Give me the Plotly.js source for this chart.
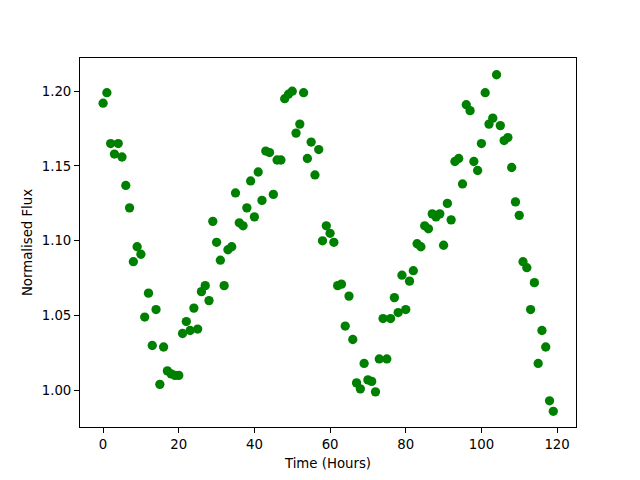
<!DOCTYPE html>
<html>
<head>
<meta charset="utf-8">
<script src="https://cdn.plot.ly/plotly-3.0.1.min.js"></script>
<style>html,body{margin:0;padding:0;background:#fff;}#chart{width:640px;height:480px;}</style>
</head>
<body>
<div id="chart"></div>
<script>
const hours = Array.from({length: 120}, (_, i) => i);
const flux = [
  1.192, 1.199, 1.165, 1.158, 1.165, 1.156, 1.137, 1.122, 1.086, 1.096,
  1.091, 1.049, 1.065, 1.030, 1.054, 1.004, 1.029, 1.013, 1.011, 1.010,
  1.010, 1.038, 1.046, 1.040, 1.055, 1.041, 1.066, 1.070, 1.060, 1.113,
  1.099, 1.087, 1.070, 1.094, 1.096, 1.132, 1.112, 1.110, 1.122, 1.140,
  1.116, 1.146, 1.127, 1.160, 1.159, 1.131, 1.154, 1.154, 1.195, 1.198,
  1.200, 1.172, 1.178, 1.199, 1.155, 1.166, 1.144, 1.161, 1.100, 1.110,
  1.105, 1.099, 1.070, 1.071, 1.043, 1.063, 1.034, 1.005, 1.001, 1.018,
  1.007, 1.006, 0.999, 1.021, 1.048, 1.021, 1.048, 1.062, 1.052, 1.077,
  1.054, 1.073, 1.080, 1.098, 1.096, 1.110, 1.108, 1.118, 1.116, 1.118,
  1.097, 1.125, 1.114, 1.153, 1.155, 1.138, 1.191, 1.187, 1.153, 1.147,
  1.165, 1.199, 1.178, 1.182, 1.211, 1.177, 1.167, 1.169, 1.149, 1.126,
  1.117, 1.086, 1.082, 1.054, 1.072, 1.018, 1.040, 1.029, 0.993, 0.986
];
const xTicks = [0, 20, 40, 60, 80, 100, 120];
const yTicks = [1.00, 1.05, 1.10, 1.15, 1.20];
const yTickText = ['1.00', '1.05', '1.10', '1.15', '1.20'];

const font = {family: 'DejaVu Sans, sans-serif', size: 13.3, color: '#000'};

Plotly.newPlot('chart', [{
  x: hours, y: flux, type: 'scatter', mode: 'markers',
  marker: {color: '#008000', size: 9.3, line: {width: 0}},
  hoverinfo: 'skip'
}], {
  width: 640, height: 480,
  margin: {l: 80, r: 64, t: 58, b: 53, pad: 0},
  paper_bgcolor: '#fff', plot_bgcolor: '#fff',
  font: font,
  showlegend: false,
  xaxis: {
    range: [-6.1, 125.0], tickvals: xTicks, ticktext: xTicks.map(String),
    showgrid: false, zeroline: false, showline: true, linecolor: '#000', linewidth: 1,
    mirror: true, ticks: 'outside', ticklen: 5, tickwidth: 1, tickcolor: '#000',
    tickfont: font,
    title: {text: 'Time (Hours)', font: font, standoff: 7}
  },
  yaxis: {
    range: [0.9755, 1.2222], tickvals: yTicks, ticktext: yTickText,
    showgrid: false, zeroline: false, showline: true, linecolor: '#000', linewidth: 1,
    mirror: true, ticks: 'outside', ticklen: 5, tickwidth: 1, tickcolor: '#000',
    tickfont: font,
    title: {text: 'Normalised Flux', font: font, standoff: 6}
  }
}, {staticPlot: true, displayModeBar: false});
</script>
</body>
</html>
